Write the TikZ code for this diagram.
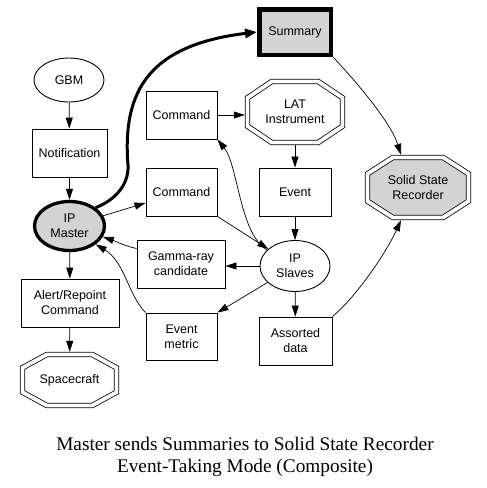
\documentclass[tikz,border=0pt]{standalone}
\usepackage{fontspec}
\setmainfont{Liberation Sans}
\newfontfamily\capfont{Liberation Serif}
\usetikzlibrary{arrows.meta,calc,shapes.geometric}
\pgfdeclarelayer{background}
\pgfsetlayers{background,main}
\definecolor{nodegray}{RGB}{211,211,211}
\newcommand\octshape[4][]{%
  \path[octline,#1]
    ([xshift=#3,yshift=-2.7pt]#2.north west) -- ([xshift=-#3,yshift=-2.7pt]#2.north east)
 -- ([xshift=-2.7pt,yshift=-#4]#2.north east) -- ([xshift=-2.7pt,yshift=#4]#2.south east)
 -- ([xshift=-#3,yshift=2.7pt]#2.south east) -- ([xshift=#3,yshift=2.7pt]#2.south west)
 -- ([xshift=2.7pt,yshift=#4]#2.south west) -- ([xshift=2.7pt,yshift=-#4]#2.north west) -- cycle;}
\begin{document}
\begin{tikzpicture}[x=1pt,y=-1pt,
  every node/.style={font=\fontsize{12.5}{15}\selectfont, align=center, inner sep=0pt},
  box/.style={draw, line width=0.9pt, rectangle, minimum width=#1, minimum height=48pt},
  box/.default=72pt,
  oval/.style={draw, line width=0.9pt, ellipse, minimum width=70pt, minimum height=50pt},
  octbox/.style 2 args={rectangle, minimum width=#1, minimum height=#2},
  octline/.style={draw, line width=0.8pt, double, double distance=3.8pt},
  arr/.style={line width=0.7pt, -{Triangle[length=11pt,width=7pt]}},
  thickarr/.style={line width=3pt, -{Triangle[length=12pt,width=9pt]}},
]
\useasboundingbox (0,0) rectangle (487,488);

% nodes
\node[box, fill=nodegray, line width=4.5pt, minimum width=71.5pt, minimum height=45.5pt] (sum) at (295,32) {Summary};
\node[oval, minimum height=44pt] (gbm) at (69,80) {GBM};
\node[box=75pt] (notif) at (69.5,153) {Notification};
\node[box=71pt] (cmd1) at (181.5,115) {Command};
\node[box=71pt] (cmd2) at (181.5,192) {Command};
\node[oval, fill=nodegray, line width=3.3pt, minimum width=70pt, minimum height=49pt] (mast) at (69.5,226) {IP\\Master};
\node[octbox={100pt}{66pt}] (lat) at (295,112) {LAT\\Instrument};
\node[box=72pt] (evt) at (295,192) {Event};
\node[octbox={106pt}{65pt}] (ssr) at (418,187.5) {Solid State\\Recorder};
\node[box=88pt] (gam) at (181,264) {Gamma-ray\\candidate};
\node[oval, minimum height=51pt] (slv) at (295,266) {IP\\Slaves};
\node[box=98pt] (alert) at (70,303) {Alert/Repoint\\Command};
\node[box=71pt, minimum height=47pt] (emet) at (181.5,336.5) {Event\\metric};
\node[box=73pt] (asrt) at (295.5,341) {Assorted\\data};
\node[octbox={99pt}{56pt}] (sc) at (69.5,380) {Spacecraft};
\coordinate (via) at (128,165);

\begin{pgfonlayer}{background}
  \octshape{lat}{27pt}{19pt}
  \octshape[fill=nodegray]{ssr}{28pt}{19pt}
  \octshape{sc}{27pt}{16pt}
\end{pgfonlayer}

% connectors
\draw[arr] (gbm) -- (notif);
\draw[arr] (notif) -- (mast);
\draw[thickarr] (mast.35) .. controls (115,200) and (129,185) .. (via)
   .. controls (122,90) and (150,45) .. (sum.west);
\draw[arr] (mast) -- (cmd2);
\draw[arr] (cmd1.east) -- (cmd1.east -| lat.west);
\draw[arr] (lat) -- (evt);
\draw[arr] (evt) -- (slv);
\draw[arr] (slv) -- (asrt);
\draw[arr] (slv.west) -- (slv.west -| gam.east);
\draw[arr] (slv) -- (emet.north east);
\draw[arr] (cmd2.south east) -- (slv);
\draw[arr] (slv.150) .. controls (240,235) and (238,165) .. (cmd1.south east);
\draw[arr] ([yshift=-9pt]gam.north west) .. controls (125,246) and (115,241) .. (mast.-18);
\draw[arr] (emet.north west) .. controls (128,295) and (125,262) .. (mast.-35);
\draw[arr] (mast) -- (alert);
\draw[arr] (alert) -- (sc);
\draw[arr] (sum.south east) .. controls (350,75) and (390,120) .. ([xshift=-17pt]ssr.north);
\draw[arr] (asrt.north east) .. controls (355,298) and (385,255) .. ([xshift=-17pt]ssr.south);

% caption
\node[font=\capfont\fontsize{19.3}{21.5}\selectfont] (cap) at (245,457)
  {Master sends Summaries to Solid State Recorder\\Event-Taking Mode (Composite)};
\end{tikzpicture}
\end{document}
